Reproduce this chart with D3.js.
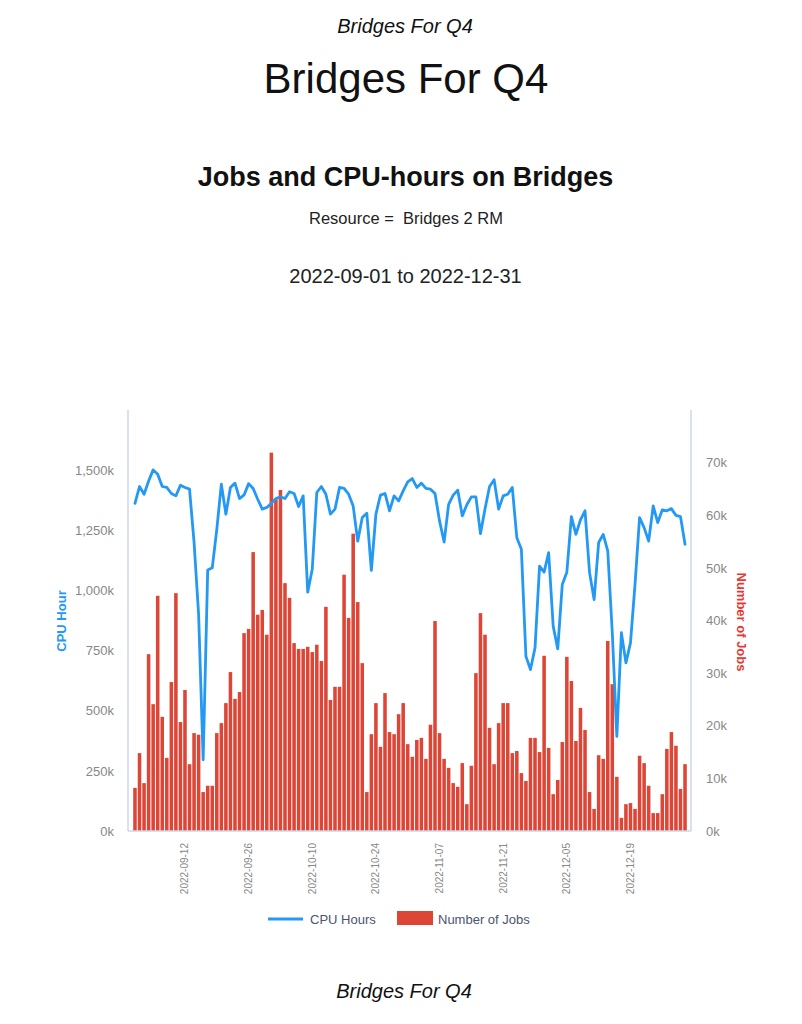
<!DOCTYPE html>
<html>
<head>
<meta charset="utf-8">
<script src="https://cdn.jsdelivr.net/npm/d3@7"></script>
<style>
  html, body { margin: 0; padding: 0; background: #fff; }
  svg { display: block; font-family: "Liberation Sans", Arial, sans-serif; }
</style>
</head>
<body>
<svg id="chart" width="802" height="1024"></svg>
<script>
// ---- data ----
const startDate = "2022-09-01";
const endDate = "2022-12-31";
const tickLabels = ["2022-09-12","2022-09-26","2022-10-10","2022-10-24","2022-11-07","2022-11-21","2022-12-05","2022-12-19"];
const leftTicks = [0, 250000, 500000, 750000, 1000000, 1250000, 1500000];
const rightTicks = [0, 10000, 20000, 30000, 40000, 50000, 60000, 70000];

const numberOfJobs = [
  8200,14800,9100,33600,24100,44700,21700,13900,28300,45200,
  20700,26800,12700,18600,18300,7400,8600,8600,18600,20500,
  24300,30200,25100,26400,37600,38400,53000,41100,42000,37300,
  71900,63100,64800,47100,44300,35700,34600,34600,35000,34000,
  35400,32300,42600,24900,27400,27400,48700,40500,56500,43500,
  31900,7400,18400,24300,16000,26200,18800,18400,22200,24300,
  16500,14100,17300,17700,13700,20200,39900,18600,13700,12000,
  9100,8400,12900,5100,12400,30000,41400,37300,19600,12700,
  20500,24300,24300,14800,15200,11000,9500,17700,17700,15000,
  33300,15800,7000,9700,16900,33100,28500,17100,23400,19200,
  7400,4200,14400,13700,36100,27900,10300,2500,5100,5300,
  4200,14300,12900,8600,3400,3400,7000,15600,18800,16200,
  8000,12700
];

const cpuHours = [
  1362000,1432000,1400000,1455000,1501000,1483000,1432000,1428000,1403000,1393000,
  1437000,1428000,1421000,1200000,900000,296000,1085000,1094000,1254000,1442000,
  1317000,1428000,1446000,1382000,1397000,1444000,1424000,1379000,1338000,1345000,
  1362000,1382000,1389000,1382000,1410000,1403000,1349000,1393000,993000,1088000,
  1407000,1432000,1400000,1317000,1338000,1428000,1424000,1400000,1351000,1205000,
  1303000,1321000,1083000,1317000,1396000,1403000,1331000,1393000,1372000,1414000,
  1451000,1465000,1428000,1446000,1424000,1421000,1403000,1289000,1201000,1358000,
  1396000,1417000,1310000,1356000,1389000,1389000,1236000,1338000,1432000,1460000,
  1338000,1393000,1400000,1428000,1219000,1171000,726000,671000,761000,1101000,
  1076000,1157000,851000,757000,1025000,1076000,1307000,1233000,1293000,1331000,
  1074000,962000,1199000,1233000,1164000,824000,393000,824000,699000,782000,
  1025000,1303000,1261000,1205000,1351000,1282000,1335000,1331000,1340000,1312000,
  1307000,1192000
];

// ---- setup ----
const svg = d3.select("#chart");
const fmtDay = d3.timeFormat("%Y-%m-%d");
const parse = d3.timeParse("%Y-%m-%d");
const days = d3.timeDay.range(parse(startDate), d3.timeDay.offset(parse(endDate), 1)).map(fmtDay);

const plot = { left: 128, right: 691, top: 410, bottom: 831 };
const barColor = "#dd4636";
const lineColor = "#2399f3";
const axisColor = "#ccd6eb";
const tickColor = "#888";
const font = '"Liberation Sans", Arial, sans-serif';

const x = d3.scaleBand().domain(days).range([132.7, 687.3]).paddingInner(0.22).paddingOuter(0.11);
const yLeft = d3.scaleLinear().domain([0, 1750000]).range([plot.bottom, plot.top]);
const yRight = d3.scaleLinear().domain([0, 80000]).range([plot.bottom, plot.top]);

// ---- titles ----
svg.append("text").attr("x", 405).attr("y", 33).attr("text-anchor", "middle")
  .style("font-size", "20px").style("font-style", "italic").attr("fill", "#111").text("Bridges For Q4");
svg.append("text").attr("x", 406).attr("y", 93).attr("text-anchor", "middle")
  .style("font-size", "42px").attr("fill", "#111").text("Bridges For Q4");
svg.append("text").attr("x", 405.5).attr("y", 186).attr("text-anchor", "middle")
  .style("font-size", "27px").style("font-weight", "bold").attr("fill", "#111").text("Jobs and CPU-hours on Bridges");
svg.append("text").attr("x", 406).attr("y", 224).attr("text-anchor", "middle").attr("xml:space", "preserve")
  .style("font-size", "16.5px").style("white-space", "pre").attr("fill", "#222").text("Resource =  Bridges 2 RM");
svg.append("text").attr("x", 405.5).attr("y", 283).attr("text-anchor", "middle")
  .style("font-size", "20px").attr("fill", "#222").text(startDate + " to " + endDate);

// ---- bars ----
svg.append("g").selectAll("rect").data(numberOfJobs).join("rect")
  .attr("x", (d, i) => x(days[i]))
  .attr("y", d => yRight(d))
  .attr("width", x.bandwidth())
  .attr("height", d => plot.bottom - yRight(d))
  .attr("fill", barColor);

// ---- line ----
const line = d3.line()
  .x((d, i) => x(days[i]) + x.bandwidth() / 2)
  .y(d => yLeft(d));
svg.append("path").datum(cpuHours)
  .attr("d", line)
  .attr("fill", "none")
  .attr("stroke", lineColor)
  .attr("stroke-width", 2.8)
  .attr("stroke-linejoin", "round")
  .attr("stroke-linecap", "round");

// ---- axes ----
const kFmt = v => d3.format(",")(v / 1000) + "k";

const gL = svg.append("g").attr("transform", `translate(${plot.left},0)`)
  .call(d3.axisLeft(yLeft).tickValues(leftTicks).tickFormat(kFmt).tickSize(0).tickPadding(14));
const gR = svg.append("g").attr("transform", `translate(${plot.right},0)`)
  .call(d3.axisRight(yRight).tickValues(rightTicks).tickFormat(kFmt).tickSize(0).tickPadding(15));
const gB = svg.append("g").attr("transform", `translate(0,${plot.bottom})`)
  .call(d3.axisBottom(x).tickValues(tickLabels).tickSize(0).tickPadding(0));

[gL, gR, gB].forEach(g => {
  g.select(".domain").attr("stroke", axisColor).attr("stroke-width", 1.5);
  g.selectAll("text").attr("fill", tickColor).style("font-family", font);
});
gL.select(".domain").attr("d", `M0,${plot.top}V${plot.bottom}`);
gR.select(".domain").attr("d", `M0,${plot.top}V${plot.bottom}`);
gB.select(".domain").attr("d", `M${plot.left},0H${plot.right}`);
gL.selectAll("text").style("font-size", "13px");
gR.selectAll("text").style("font-size", "13px");
gB.selectAll("text").style("font-size", "10px")
  .attr("transform", "rotate(-90)")
  .attr("text-anchor", "end")
  .attr("x", -12).attr("y", 0).attr("dy", "0.35em");

// axis titles
svg.append("text").attr("transform", "translate(66,621) rotate(-90)").attr("text-anchor", "middle")
  .style("font-size", "13px").style("font-weight", "bold").attr("fill", lineColor).text("CPU Hour");
svg.append("text").attr("transform", "translate(737,622) rotate(90)").attr("text-anchor", "middle")
  .style("font-size", "13px").style("font-weight", "bold").attr("fill", "#e53935").text("Number of Jobs");

// ---- legend ----
const lg = svg.append("g");
lg.append("line").attr("x1", 268).attr("x2", 303).attr("y1", 919).attr("y2", 919)
  .attr("stroke", lineColor).attr("stroke-width", 2.8);
lg.append("text").attr("x", 310).attr("y", 923.5).style("font-size", "13px").attr("fill", "#4a5470").text("CPU Hours");
lg.append("rect").attr("x", 397).attr("y", 911).attr("width", 36).attr("height", 14).attr("fill", barColor);
lg.append("text").attr("x", 438).attr("y", 923.5).style("font-size", "13px").attr("fill", "#4a5470").text("Number of Jobs");

// footer
svg.append("text").attr("x", 404).attr("y", 998).attr("text-anchor", "middle")
  .style("font-size", "20px").style("font-style", "italic").attr("fill", "#111").text("Bridges For Q4");
</script>
</body>
</html>
